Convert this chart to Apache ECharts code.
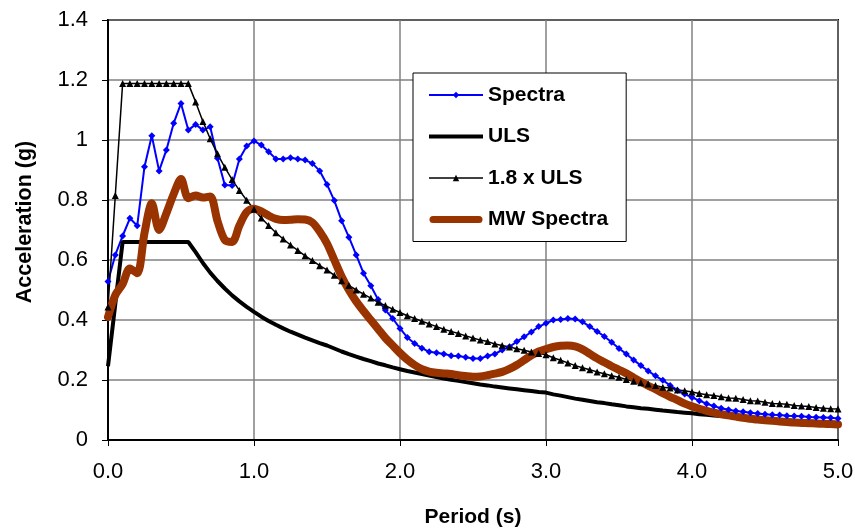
<!DOCTYPE html>
<html>
<head>
<meta charset="utf-8">
<script src="https://cdn.jsdelivr.net/npm/echarts@6/dist/echarts.min.js"></script>
<style>html,body{margin:0;padding:0;background:#fff;}#c{width:855px;height:530px;}</style>
</head>
<body>
<div id="c"></div>
<script>
var periods = [0,0.05,0.1,0.15,0.2,0.25,0.3,0.35,0.4,0.45,0.5,0.55,0.6,0.65,0.7,0.75,0.8,0.85,0.9,0.95,
1.0,1.05,1.1,1.15,1.2,1.25,1.3,1.35,1.4,1.45,1.5,1.55,1.6,1.65,1.7,1.75,1.8,1.85,1.9,1.95,
2.0,2.05,2.1,2.15,2.2,2.25,2.3,2.35,2.4,2.45,2.5,2.55,2.6,2.65,2.7,2.75,2.8,2.85,2.9,2.95,
3.0,3.05,3.1,3.15,3.2,3.25,3.3,3.35,3.4,3.45,3.5,3.55,3.6,3.65,3.7,3.75,3.8,3.85,3.9,3.95,
4.0,4.05,4.1,4.15,4.2,4.25,4.3,4.35,4.4,4.45,4.5,4.55,4.6,4.65,4.7,4.75,4.8,4.85,4.9,4.95,5.0];

var spectra = [0.528,0.617,0.68,0.739,0.714,0.911,1.014,0.897,0.967,1.056,1.122,1.033,1.052,1.033,1.044,0.939,0.85,0.848,0.937,0.98,
0.997,0.983,0.961,0.937,0.937,0.941,0.937,0.933,0.922,0.897,0.852,0.798,0.731,0.676,0.617,0.556,0.514,0.468,0.433,0.405,
0.372,0.342,0.322,0.306,0.294,0.291,0.287,0.281,0.28,0.276,0.272,0.272,0.28,0.287,0.30,0.311,0.328,0.344,0.36,0.378,
0.389,0.40,0.402,0.405,0.403,0.394,0.378,0.362,0.345,0.326,0.305,0.287,0.267,0.248,0.230,0.214,0.199,0.182,0.166,0.153,
0.142,0.131,0.121,0.113,0.106,0.101,0.097,0.094,0.091,0.088,0.086,0.084,0.083,0.081,0.080,0.079,0.077,0.076,0.075,0.074,0.072];

var uls = [0.246,0.453,0.66,0.66,0.66,0.66,0.66,0.66,0.66,0.66,0.66,0.66,0.626,0.590,0.558,0.530,0.505,0.482,0.462,0.444,
0.427,0.411,0.397,0.384,0.372,0.361,0.351,0.341,0.332,0.323,0.315,0.305,0.295,0.286,0.278,0.270,0.263,0.255,0.249,0.242,
0.236,0.230,0.225,0.220,0.215,0.210,0.205,0.201,0.197,0.193,0.189,0.185,0.182,0.178,0.175,0.172,0.169,0.166,0.163,0.160,
0.158,0.152,0.148,0.143,0.138,0.134,0.130,0.126,0.123,0.119,0.116,0.112,0.109,0.106,0.104,0.101,0.098,0.096,0.093,0.091,
0.089,0.086,0.084,0.082,0.080,0.078,0.077,0.075,0.073,0.072,0.070,0.068,0.067,0.066,0.064,0.063,0.062,0.060,0.059,0.058,0.057];

var uls18 = [0.443,0.815,1.188,1.188,1.188,1.188,1.188,1.188,1.188,1.188,1.188,1.188,1.127,1.062,1.004,0.954,0.909,0.868,0.832,0.799,
0.769,0.740,0.715,0.691,0.670,0.650,0.632,0.614,0.598,0.581,0.567,0.549,0.531,0.515,0.500,0.486,0.473,0.459,0.448,0.436,
0.425,0.414,0.405,0.396,0.387,0.378,0.369,0.362,0.355,0.347,0.340,0.333,0.328,0.320,0.315,0.310,0.304,0.299,0.293,0.288,
0.284,0.274,0.266,0.257,0.248,0.241,0.234,0.227,0.221,0.214,0.209,0.202,0.196,0.191,0.187,0.182,0.176,0.173,0.167,0.164,
0.160,0.155,0.151,0.148,0.144,0.140,0.139,0.135,0.131,0.130,0.126,0.122,0.121,0.119,0.115,0.113,0.112,0.108,0.106,0.104,0.103];

var mw = [0.41,0.483,0.52,0.572,0.556,0.69,0.789,0.70,0.756,0.82,0.87,0.806,0.815,0.808,0.812,0.73,0.667,0.66,0.715,0.76,
0.771,0.762,0.748,0.737,0.733,0.734,0.736,0.735,0.725,0.695,0.655,0.60,0.545,0.50,0.462,0.43,0.40,0.37,0.34,0.315,
0.29,0.268,0.25,0.236,0.228,0.224,0.222,0.22,0.216,0.213,0.211,0.212,0.216,0.221,0.227,0.237,0.25,0.266,0.282,0.295,
0.303,0.31,0.314,0.315,0.312,0.302,0.287,0.272,0.259,0.246,0.234,0.222,0.208,0.194,0.181,0.169,0.156,0.144,0.133,0.121,
0.112,0.104,0.097,0.091,0.086,0.082,0.078,0.074,0.071,0.068,0.066,0.064,0.062,0.060,0.058,0.057,0.056,0.055,0.054,0.053,0.052];

var seriesNames = ['Spectra','ULS','1.8 x ULS','MW Spectra'];

function pairs(vals){ return periods.map(function(p,i){ return [p, vals[i]]; }); }

var chart = echarts.init(document.getElementById('c'), null, {renderer:'canvas'});
var font = 'Arial, "Liberation Sans", sans-serif';
chart.setOption({
  animation:false,
  backgroundColor:'#fff',
  grid:{left:108,right:17,top:20,bottom:90,containLabel:false,outerBoundsMode:'none',
        show:true,borderColor:'#000',borderWidth:2,backgroundColor:'transparent'},
  legend:{
    orient:'vertical', left:413, top:73,
    padding:[11,18,11,15],
    borderColor:'#000', borderWidth:1, backgroundColor:'#fff',
    itemWidth:54, itemHeight:8, itemGap:19.5,
    textStyle:{fontFamily:font,fontWeight:'bold',fontSize:21,color:'#000',lineHeight:22},
    data:[
      {name:seriesNames[0], lineStyle:{width:2}},
      {name:seriesNames[1], icon:'path://M0,0 M0,2 L54,2 L54,6 L0,6 Z M54,8'},
      {name:seriesNames[2], lineStyle:{width:1.5}},
      {name:seriesNames[3], icon:'path://M0,0 M4,0.5 L50,0.5 A3.5,3.5 0 0 1 50,7.5 L4,7.5 A3.5,3.5 0 0 1 4,0.5 Z M54,8'}
    ]
  },
  xAxis:{
    type:'value', min:0, max:5, interval:1,
    name:'Period (s)', nameLocation:'middle', nameGap:67,
    nameTextStyle:{fontFamily:font,fontWeight:'bold',fontSize:21,color:'#000'},
    axisLine:{show:true,onZero:false,lineStyle:{color:'#000',width:2}},
    axisTick:{show:true,length:6,lineStyle:{color:'#000',width:1}},
    axisLabel:{fontFamily:font,fontSize:22,color:'#000',margin:21,formatter:function(v){return v.toFixed(1);}},
    splitLine:{show:true,lineStyle:{color:'#808080',width:1.5}}
  },
  yAxis:{
    type:'value', min:0, max:1.4, interval:0.2,
    name:'Acceleration (g)', nameLocation:'middle', nameGap:72,
    nameTextStyle:{fontFamily:font,fontWeight:'bold',fontSize:21.5,color:'#000',padding:[0,0,0,16]},
    axisLine:{show:true,lineStyle:{color:'#000',width:2}},
    axisTick:{show:true,length:6,lineStyle:{color:'#000',width:1}},
    axisLabel:{fontFamily:font,fontSize:22,color:'#000',margin:20,formatter:function(v){return String(Math.round(v*10)/10);}},
    splitLine:{show:true,lineStyle:{color:'#808080',width:1.5}}
  },
  series:[
    {name:seriesNames[0],type:'line',data:pairs(spectra),symbol:'diamond',symbolSize:7,showSymbol:true,
     itemStyle:{color:'#0000ff'},lineStyle:{color:'#0000ff',width:2}},
    {name:seriesNames[1],type:'line',data:pairs(uls),symbol:'none',
     itemStyle:{color:'#000'},lineStyle:{color:'#000',width:4}},
    {name:seriesNames[2],type:'line',data:pairs(uls18),symbol:'triangle',symbolSize:7,showSymbol:true,
     itemStyle:{color:'#000'},lineStyle:{color:'#000',width:1.5}},
    {name:seriesNames[3],type:'line',data:pairs(mw),symbol:'none',smooth:0.3,
     itemStyle:{color:'#993300'},lineStyle:{color:'#993300',width:8,cap:'round',join:'round'}}
  ]
});
</script>
</body>
</html>
